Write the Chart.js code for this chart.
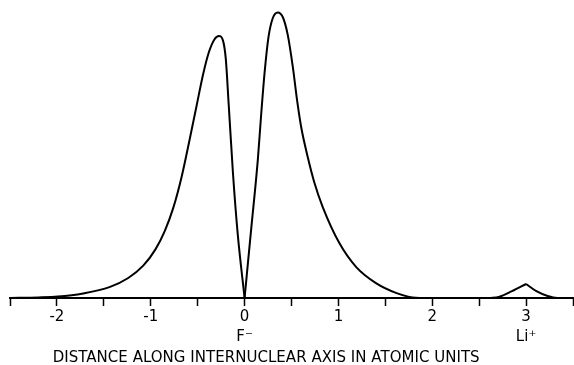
<!DOCTYPE html>
<html>
<head>
<meta charset="utf-8">
<script src="https://cdn.jsdelivr.net/npm/chart.js@4"></script>
<style>
  html, body { margin: 0; padding: 0; background: #fff; }
  #wrap { width: 574px; height: 365px; }
</style>
</head>
<body>
<div id="wrap"><canvas id="densityChart"></canvas></div>
<script>
// F- density, left of the nucleus (ends in the cusp at 0)
const fLeftX = [-2.5, -2.2, -1.99, -1.72, -1.44, -1.24, -1.08, -0.95, -0.85, -0.76, -0.67, -0.585, -0.514, -0.44, -0.38, -0.32, -0.273, -0.23, -0.2, -0.17, -0.124, -0.074, 0];
const fLeftY = [0, 0.002, 0.005, 0.016, 0.038, 0.07, 0.113, 0.17, 0.235, 0.315, 0.425, 0.555, 0.668, 0.785, 0.86, 0.905, 0.916, 0.9, 0.835, 0.68, 0.437, 0.227, 0];
// F- density, right of the nucleus
const fRightX = [0, 0.07, 0.141, 0.178, 0.213, 0.255, 0.301, 0.354, 0.41, 0.46, 0.514, 0.56, 0.603, 0.673, 0.745, 0.833, 1.01, 1.19, 1.40, 1.62, 1.79, 1.97, 2.61];
const fRightY = [0, 0.24, 0.483, 0.647, 0.787, 0.913, 0.979, 0.998, 0.98, 0.92, 0.808, 0.69, 0.598, 0.493, 0.402, 0.318, 0.192, 0.108, 0.052, 0.017, 0.002, 0, 0];
// Li+ bump
const liLeftX = [2.61, 2.71, 2.85, 3.0];
const liLeftY = [0, 0.004, 0.024, 0.049];
const liRightX = [3.0, 3.11, 3.23, 3.33, 3.5];
const liRightY = [0.049, 0.024, 0.007, 0, 0];

// tick labels
const tickValues = [-2, -1, 0, 1, 2, 3];
const tickText = ['-2', '-1', '0', '1', '2', '3'];
const tickSub = ['', '', 'F\u207B', '', '', 'Li\u207A'];
const axisTitle = 'DISTANCE ALONG INTERNUCLEAR AXIS IN ATOMIC UNITS';

const pts = (xs, ys) => xs.map((x, i) => ({x: x, y: ys[i]}));

const lineStyle = {
    borderColor: '#000',
    borderWidth: 2,
    pointRadius: 0,
    fill: false,
    cubicInterpolationMode: 'monotone',
};

// axis title drawn a bit left of centre, like the original print
const titlePlugin = {
    id: 'axisTitle',
    afterDraw(chart) {
        const ctx = chart.ctx;
        const xs = chart.scales.x;
        ctx.save();
        ctx.font = '15px "DejaVu Sans"';
        ctx.fillStyle = '#000';
        const w = ctx.measureText(axisTitle).width;
        const spacing = (427 - w) / axisTitle.length;
        ctx.letterSpacing = spacing + 'px';
        ctx.textAlign = 'left';
        ctx.textBaseline = 'middle';
        ctx.fillText(axisTitle, xs.getPixelForValue(0.23) - 427 / 2, 358);
        ctx.restore();
    }
};

new Chart('densityChart', {
    type: 'line',
    data: {
        datasets: [
            {label: 'F- left', data: pts(fLeftX, fLeftY), ...lineStyle},
            {label: 'F- right', data: pts(fRightX, fRightY), ...lineStyle},
            {label: 'Li+ left', data: pts(liLeftX, liLeftY), ...lineStyle},
            {label: 'Li+ right', data: pts(liRightX, liRightY), ...lineStyle},
        ]
    },
    options: {
        responsive: true,
        maintainAspectRatio: false,
        animation: false,
        layout: {
            padding: {left: 10, right: 0, top: 0, bottom: 0}
        },
        plugins: {
            legend: {display: false},
            tooltip: {enabled: false},
        },
        scales: {
            x: {
                type: 'linear',
                min: -2.5,
                max: 3.5,
                border: {display: true, color: '#000', width: 2},
                grid: {
                    drawOnChartArea: false,
                    drawTicks: true,
                    tickLength: 8,
                    tickColor: '#000',
                    tickWidth: 1.5,
                },
                ticks: {
                    stepSize: 0.5,
                    autoSkip: false,
                    maxRotation: 0,
                    padding: 1,
                    color: '#000',
                    font: {family: '"DejaVu Sans"', size: 15, lineHeight: 1.33},
                    callback: function(value) {
                        const i = tickValues.indexOf(value);
                        if (i < 0) return '';
                        return tickSub[i] ? [tickText[i], tickSub[i]] : tickText[i];
                    }
                },
                afterFit: function(scale) { scale.height = 67; }
            },
            y: {
                display: false,
                min: 0,
                max: 1.042,
            }
        }
    },
    plugins: [titlePlugin]
});
</script>
</body>
</html>
